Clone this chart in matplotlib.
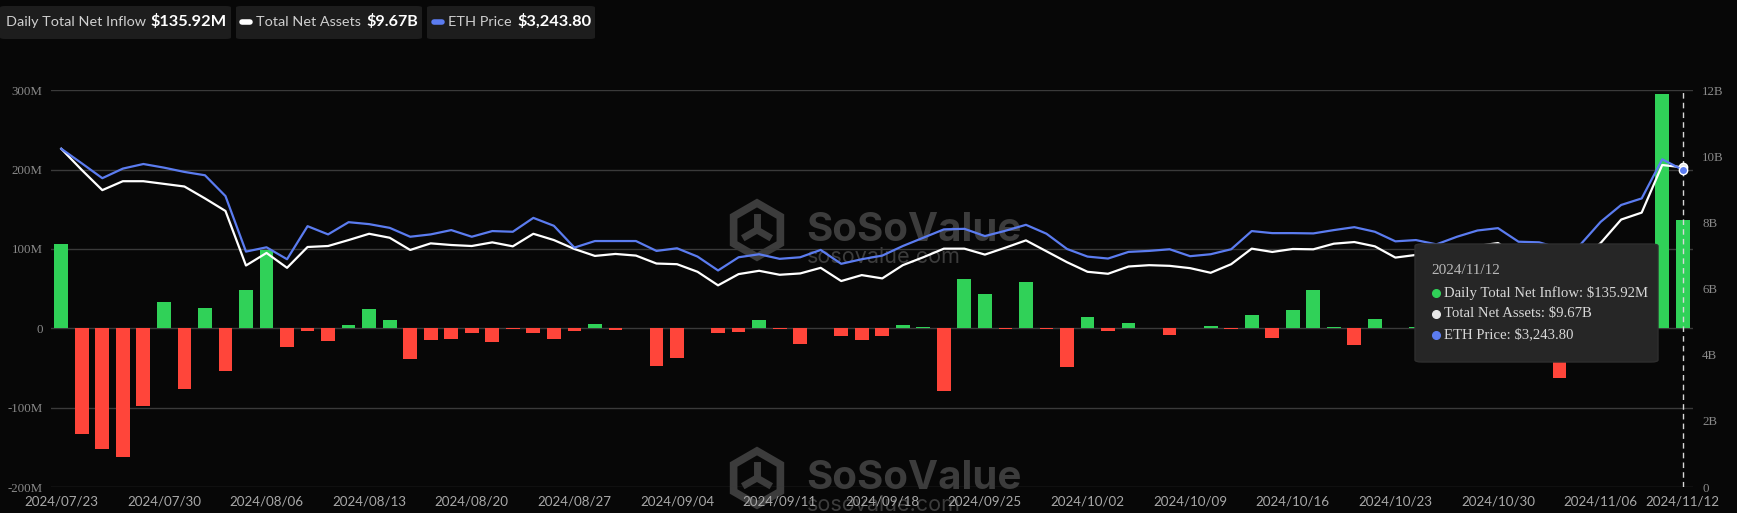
import numpy as np
import pandas as pd
import matplotlib
matplotlib.use("Agg")
import matplotlib.pyplot as plt
from matplotlib.patches import FancyBboxPatch, RegularPolygon
from matplotlib.lines import Line2D

# trading days shown on the category axis (US market, Labor Day closed)
dates = pd.bdate_range("2024-07-23", "2024-11-12")
dates = dates[dates != pd.Timestamp("2024-09-02")]
date_labels = list(dates.strftime("%Y/%m/%d"))

# daily total net inflow, $M
inflow = [
    106.3, -132.8, -152.1, -162.6, -97.9, 33.2, -76.9, 26.1, -54.2, 48.3,
    98.3, -23.5, -2.9, -15.5, 4.2, 23.9, 10.5, -39.1, -14.7, -13.0,
    -6.3, -17.6, -0.8, -5.5, -13.0, -2.9, 5.5, -1.7, 0.0, -47.1,
    -37.0, 0.0, -5.5, -5.0, 10.9, -0.8, -19.7, 0.8, -9.2, -14.7,
    -9.7, 4.6, 2.1, -79.0, 62.2, 42.9, -0.8, 58.4, -0.8, -48.3,
    13.9, -2.9, 7.1, 0.0, -8.0, 0.0, 2.5, -0.8, 16.4, -12.6,
    23.5, 47.9, 1.3, -21.0, 11.3, 0.8, 1.7, -19.2, -1.1, 7.6,
    4.0, -10.9, -10.9, -63.0, 52.3, 52.2, 79.7, 85.9, 295.5, 135.92,
]

# total net assets, $B
assets = [
    10.23, 9.59, 8.98, 9.25, 9.25, 9.17, 9.09, 8.73, 8.35, 6.70,
    7.08, 6.63, 7.26, 7.29, 7.47, 7.66, 7.54, 7.17, 7.37, 7.32,
    7.29, 7.40, 7.28, 7.66, 7.47, 7.20, 6.99, 7.05, 7.00, 6.76,
    6.74, 6.51, 6.10, 6.44, 6.54, 6.42, 6.46, 6.63, 6.23, 6.41,
    6.31, 6.71, 6.95, 7.21, 7.21, 7.03, 7.24, 7.46, 7.13, 6.80,
    6.51, 6.45, 6.67, 6.71, 6.69, 6.62, 6.48, 6.74, 7.21, 7.11,
    7.20, 7.19, 7.36, 7.41, 7.28, 6.94, 7.02, 6.90, 7.12, 7.29,
    7.38, 6.97, 6.95, 6.79, 6.88, 7.38, 8.09, 8.30, 9.74, 9.67,
]

# ETH price, $
eth_price = [
    3460, 3311, 3159, 3257, 3304, 3267, 3223, 3189, 2976, 2408,
    2452, 2330, 2668, 2584, 2709, 2689, 2651, 2560, 2584, 2628,
    2560, 2618, 2611, 2753, 2672, 2449, 2516, 2516, 2516, 2415,
    2442, 2357, 2215, 2350, 2381, 2334, 2350, 2425, 2283, 2330,
    2367, 2465, 2550, 2635, 2641, 2567, 2621, 2682, 2591, 2435,
    2357, 2337, 2405, 2415, 2432, 2361, 2381, 2432, 2618, 2597,
    2597, 2594, 2628, 2658, 2611, 2513, 2526, 2482, 2560, 2624,
    2648, 2509, 2503, 2442, 2476, 2712, 2885, 2952, 3352, 3243.8,
]

left_ticks = [-200, -100, 0, 100, 200, 300]
left_labels = ["-200M", "-100M", "0", "100M", "200M", "300M"]
right_ticks = [0, 2, 4, 6, 8, 10, 12]
right_labels = ["0", "2B", "4B", "6B", "8B", "10B", "12B"]

BG = "#070707"
GRID = "#3a3a3a"
GREEN = "#30d158"
RED = "#ff453a"
BLUE = "#5b7cf0"
WM = "#3c3c3c"

W, H = 1737, 513


def fx(px):
    return px / W


def fy(py):
    return 1 - py / H


fig = plt.figure(figsize=(W / 100, H / 100), dpi=100, facecolor=BG)
renderer = fig.canvas.get_renderer()
ax = fig.add_axes([fx(51), fy(487), (1693 - 51) / W, (487 - 90.3) / H])
ax.set_facecolor(BG)

x = np.arange(len(dates))

# watermarks (behind the data), logo drawn in inches so it stays regular
inch = fig.dpi_scale_trans
for dy in (0, 248):
    cx, cy = 757 / 100, (H - 230 - dy) / 100
    ax.add_patch(RegularPolygon((cx, cy), 6, radius=0.27, orientation=0,
                                transform=inch, facecolor="none", edgecolor=WM,
                                lw=5.5, clip_on=False, zorder=0.5))
    for ang in (90, 210, 330):
        a = np.deg2rad(ang)
        ax.add_line(Line2D([cx, cx + 0.13 * np.cos(a)], [cy, cy + 0.13 * np.sin(a)],
                           transform=inch, color=WM, lw=5, clip_on=False, zorder=0.5))
    ax.text(fx(806), fy(241 + dy), "SoSoValue", transform=fig.transFigure,
            fontsize=29, fontweight="bold", family="Inter", color=WM,
            ha="left", va="baseline", zorder=0.5, clip_on=False)
    ax.text(fx(807), fy(263 + dy), "sosovalue.com", transform=fig.transFigure,
            fontsize=15.5, family="Inter", color=WM,
            ha="left", va="baseline", zorder=0.5, clip_on=False)

colors = [GREEN if v >= 0 else RED for v in inflow]
ax.bar(x, inflow, width=0.67, color=colors, zorder=2)
ax.set_xlim(-0.5, len(x) - 0.5)
ax.set_ylim(-200, 300)
ax.set_yticks(left_ticks)
ax.set_yticklabels(left_labels, family="Liberation Serif", fontsize=9.3, color="#8a8a8a")
ax.grid(axis="y", color=GRID, lw=1, zorder=1)
ax.set_axisbelow(True)
for s in ax.spines.values():
    s.set_visible(False)
ax.tick_params(length=0, axis="y", pad=6)
ax.tick_params(length=0, axis="x", pad=6)

xticks = list(range(0, len(x), 5)) + [len(x) - 1]
ax.set_xticks(xticks)
ax.set_xticklabels([date_labels[i] for i in xticks], family="Lato",
                   fontsize=9.6, color="#a8a8a8")
ax.axvline(x[-1], color="#d8d8d8", ls=(0, (4, 3)), lw=1, zorder=4)

ax2 = ax.twinx()
ax2.plot(x, assets, color="white", lw=1.6, zorder=3)
ax2.plot(x[-1], assets[-1], "o", ms=6, mfc="#e8e8e8", mec="white", zorder=5)
ax2.set_ylim(0, 12)
ax2.set_yticks(right_ticks)
ax2.set_yticklabels(right_labels, family="Liberation Serif", fontsize=9.3, color="#8a8a8a")
ax2.tick_params(length=0, pad=6.5)
for s in ax2.spines.values():
    s.set_visible(False)

ax3 = ax.twinx()
ax3.plot(x, eth_price, color=BLUE, lw=1.6, zorder=3)
ax3.plot(x[-1], eth_price[-1], "o", ms=6, mfc=BLUE, mec="white", mew=1, zorder=5)
ax3.set_ylim(0, 4058)
ax3.axis("off")


def fit_text(xpx, ypx, s, wpx, **kw):
    # shrink/grow the font so the text spans the width seen in the reference
    t = fig.text(fx(xpx), fy(ypx), s, fontsize=10, ha="left", va="center", **kw)
    w = t.get_window_extent(renderer=renderer).width
    t.set_fontsize(10 * wpx / w)
    return t


# header legend
hdr = [
    (0, 231, None, 6, "Daily Total Net Inflow", 139, 150, "$135.92M", 76),
    (236, 422, "white", 256, "Total Net Assets", 105, 366, "$9.67B", 52),
    (427, 595, BLUE, 448, "ETH Price", 63, 517, "$3,243.80", 74),
]
for x0, x1, mk, tx, name, nw, vx, val, vw in hdr:
    fig.patches.append(FancyBboxPatch((fx(x0), fy(39)), fx(x1 - x0), 33 / H,
                                      boxstyle="round,pad=0,rounding_size=0.003",
                                      transform=fig.transFigure,
                                      facecolor="#1d1d1d", edgecolor="none"))
    if mk:
        fig.add_artist(Line2D([fx(tx - 14), fx(tx - 6)], [fy(21.5), fy(21.5)],
                              transform=fig.transFigure, color=mk, lw=4,
                              solid_capstyle="round"))
    fit_text(tx, 22, name, nw, family="Lato", color="#cfcfcf")
    fit_text(vx, 21.5, val, vw, family="Lato", fontweight="bold", color="white")

# hover tooltip for the last day
fig.patches.append(FancyBboxPatch((fx(1415), fy(362)), fx(243), 118 / H,
                                  boxstyle="round,pad=0,rounding_size=0.004",
                                  transform=fig.transFigure,
                                  facecolor="#262626", edgecolor="#2e2e2e", zorder=10))
fig.text(fx(1431), fy(271), date_labels[-1], family="Liberation Serif",
         fontsize=11, color="#b8b8b8", ha="left", va="center", zorder=11)
tip = [
    (GREEN, f"Daily Total Net Inflow: ${inflow[-1]:.2f}M"),
    ("#e8e8e8", f"Total Net Assets: ${assets[-1]:.2f}B"),
    (BLUE, f"ETH Price: ${eth_price[-1]:,.2f}"),
]
for k, (c, t) in enumerate(tip):
    yy = 292.5 + 21 * k
    fig.add_artist(Line2D([fx(1436)], [fy(yy)], transform=fig.transFigure,
                          marker="o", ms=5.5, color=c, ls="none", zorder=11))
    fig.text(fx(1444), fy(yy), t, family="Liberation Serif", fontsize=10.6,
             color="#d8d8d8", ha="left", va="center", zorder=11)

fig.savefig("out.png", dpi=100, facecolor=BG)
